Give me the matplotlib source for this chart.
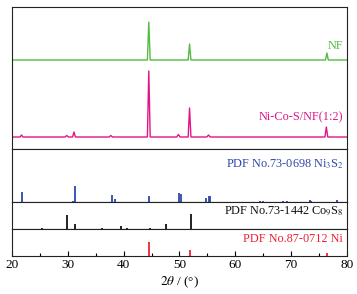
import matplotlib
matplotlib.use("Agg")
import matplotlib.pyplot as plt
from matplotlib.ticker import MultipleLocator

# ---- data ----
nf_x = [20, 44.25, 44.5, 44.75, 51.55, 51.8, 52.05, 76.15, 76.4, 76.65, 80]
nf_y = [89, 89, 127, 89, 89, 105, 89, 89, 96, 89, 89]

nics_x = [20, 21.45, 21.7, 21.95, 29.5, 29.8, 30.1, 30.85, 31.1, 31.35,
          37.4, 37.7, 38.0, 44.25, 44.5, 44.75, 49.5, 49.8, 50.1,
          51.55, 51.8, 52.05, 54.9, 55.2, 55.5, 76.05, 76.3, 76.55, 80]
nics_y = [12, 12, 14, 12, 12, 13.5, 12, 12, 17, 12,
          12, 13.5, 12, 12, 78, 12, 12, 14.5, 12,
          12, 41, 12, 12, 14, 12, 12, 22, 12, 12]

ni3s2_pos = [21.85, 30.9, 31.2, 37.9, 38.45, 44.5, 49.9, 50.2, 54.75, 55.35, 55.55,
             64.4, 65.0, 68.6, 69.2, 73.3, 73.5, 78.15]
ni3s2_h = [10, 1, 16, 7, 3, 6, 9, 8, 4, 6, 6, 1, 1, 1.5, 1.5, 2, 1.5, 2]

co9s8_pos = [25.4, 29.85, 31.2, 36.2, 39.5, 40.6, 44.7, 47.6, 52.1]
co9s8_h = [1.5, 14, 5, 1, 3, 1, 1, 5, 15]

ni_pos = [44.5, 51.8, 76.4]
ni_h = [14, 6, 3]

xticks = [20, 30, 40, 50, 60, 70, 80]

green = "#55BB44"
pink = "#E0158A"
blue = "#2E48A8"
black = "#111111"
red = "#EE2233"

plt.rcParams["font.family"] = ["Liberation Serif", "DejaVu Serif"]
plt.rcParams["mathtext.fontset"] = "stix"

W, H = 357, 294
fig = plt.figure(figsize=(W / 100, H / 100), dpi=100)

left, right = 12 / W, 347 / W
panels = [(7, 149), (149, 202), (202, 229), (229, 256)]
axes = []
for (t, b) in panels:
    ax = fig.add_axes([left, 1 - b / H, right - left, (b - t) / H])
    ax.set_xlim(20, 80)
    ax.set_ylim(0, b - t)
    ax.set_yticks([])
    for s in ax.spines.values():
        s.set_linewidth(0.8)
        s.set_color("#222222")
    axes.append(ax)

fs = 8.8
xr = 79.35
ax0, ax1, ax2, ax3 = axes
ax0.plot(nf_x, nf_y, color=green, lw=1.0)
ax0.plot(nics_x, nics_y, color=pink, lw=1.0)
ax0.text(xr, 103, "NF", color=green, fontsize=fs, ha="right", va="center")
ax0.text(xr, 32, "Ni-Co-S/NF(1:2)", color=pink, fontsize=fs, ha="right", va="center")

ax1.vlines(ni3s2_pos, 0, ni3s2_h, color=blue, lw=1.3)
ax1.text(xr, 38, "PDF No.73-0698 Ni$_3$S$_2$", color=blue, fontsize=fs, ha="right", va="center")

ax2.vlines(co9s8_pos, 0, co9s8_h, color=black, lw=1.3)
ax2.text(xr, 18, "PDF No.73-1442 Co$_9$S$_8$", color=black, fontsize=fs, ha="right", va="center")

ax3.vlines(ni_pos, 0, ni_h, color=red, lw=1.3)
ax3.text(xr, 17, "PDF No.87-0712 Ni", color=red, fontsize=fs, ha="right", va="center")

for ax in axes[:3]:
    ax.set_xticks([])

ax3.set_xticks(xticks)
ax3.xaxis.set_minor_locator(MultipleLocator(5))
ax3.tick_params(axis="x", which="major", direction="in", length=3.5, width=0.8, labelsize=9.5, pad=2)
ax3.tick_params(axis="x", which="minor", direction="in", length=2, width=0.8)
ax3.set_xlabel(r"$2\theta$ / (°)", fontsize=9.5, labelpad=3)

fig.savefig("out.png", dpi=100)
